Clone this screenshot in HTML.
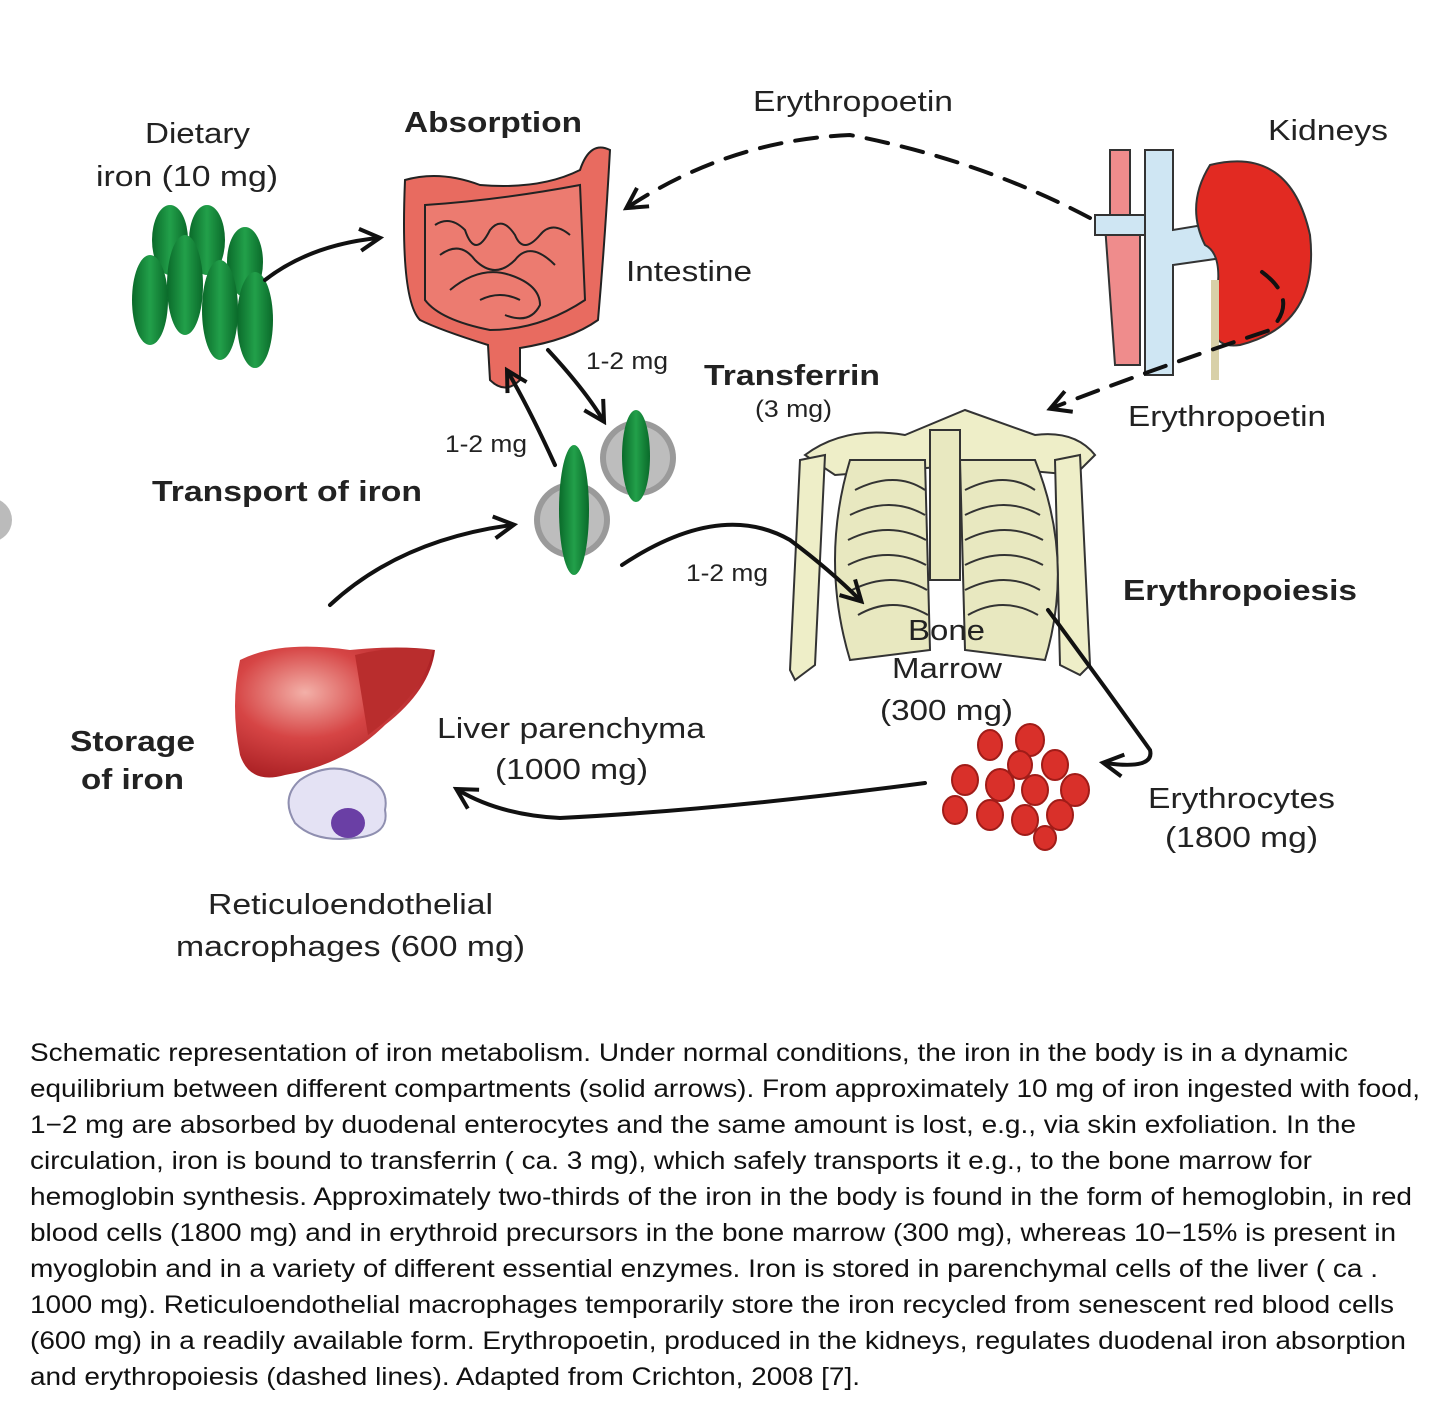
<!DOCTYPE html>
<html><head><meta charset="utf-8"><style>
html,body{margin:0;padding:0;background:#fff;}
svg{display:block;}
text{font-family:"Liberation Sans",Arial,sans-serif;fill:#222;}
.b{font-weight:bold;}
.cap{font-size:25px;fill:#111;}
</style></head><body>
<svg width="1440" height="1408" viewBox="0 0 1440 1408" xmlns="http://www.w3.org/2000/svg">
<defs>
<marker id="ahb" markerWidth="26" markerHeight="26" refX="20" refY="13" orient="auto" markerUnits="userSpaceOnUse">
<path d="M2,2 L22,13 L2,24" fill="none" stroke="#111" stroke-width="4"/></marker>
<radialGradient id="liv" cx="0.35" cy="0.35" r="0.7"><stop offset="0" stop-color="#f3b0a8"/><stop offset="0.5" stop-color="#d64545"/><stop offset="1" stop-color="#a81e22"/></radialGradient>
<linearGradient id="gr" x1="0" x2="1"><stop offset="0" stop-color="#0a6a2a"/><stop offset="0.5" stop-color="#22a04a"/><stop offset="1" stop-color="#0a6a2a"/></linearGradient>
</defs>

<circle cx="-10" cy="520" r="22" fill="#bbb"/>

<g fill="url(#gr)">
<ellipse cx="170" cy="240" rx="18" ry="35"/><ellipse cx="207" cy="240" rx="18" ry="35"/><ellipse cx="245" cy="262" rx="18" ry="35"/>
<ellipse cx="150" cy="300" rx="18" ry="45"/><ellipse cx="185" cy="285" rx="18" ry="50"/><ellipse cx="220" cy="310" rx="18" ry="50"/><ellipse cx="255" cy="320" rx="18" ry="48"/>
</g>

<g stroke="#222" stroke-width="2">
<path d="M405,180 Q440,170 480,185 Q540,190 580,170 Q590,140 610,150 Q605,240 598,320 Q570,340 520,348 L520,380 Q505,395 490,380 L488,345 Q440,330 420,320 Q400,300 405,180 z" fill="#e86b60"/>
<path d="M425,205 Q500,200 580,185 L585,300 Q540,330 490,330 Q440,320 425,300 z" fill="#ec7b70"/>
<g fill="none" stroke-width="2">
<path d="M435,225 q15,-10 30,5 q10,30 25,0 q12,-15 25,5 q8,20 25,0 q12,-15 30,0"/>
<path d="M440,255 q20,-15 35,5 q20,20 40,0 q15,-20 40,5"/>
<path d="M450,290 q30,-25 60,-15 q30,10 30,30 q-10,20 -35,10"/>
<path d="M480,300 q20,-10 40,0"/>
</g>
</g>

<circle cx="638" cy="458" r="38" fill="#9a9a9a"/><circle cx="638" cy="458" r="32" fill="#bdbdbd"/>
<ellipse cx="636" cy="456" rx="14" ry="46" fill="url(#gr)"/>
<circle cx="572" cy="520" r="38" fill="#9a9a9a"/><circle cx="572" cy="520" r="32" fill="#bdbdbd"/>
<ellipse cx="574" cy="510" rx="15" ry="65" fill="url(#gr)"/>

<g stroke="#333" stroke-width="2">
<path d="M1110,150 h20 v90 h-20 z" fill="#ef8c8c"/>
<path d="M1105,225 h35 v140 h-25 z" fill="#ef8c8c"/>
<path d="M1145,150 h28 v80 l60,-10 l10,35 l-70,10 v110 h-28 z" fill="#cfe6f3"/>
<path d="M1095,215 l50,0 l0,20 l-50,0 z" fill="#cfe6f3"/>
<path d="M1210,165 q80,-20 100,70 q10,90 -70,110 q-35,5 -25,-40 q10,-50 -10,-60 q-20,-40 5,-80 z" fill="#e22a22"/>
<path d="M1215,280 v100" stroke="#d8d0a8" stroke-width="8" fill="none"/>
</g>

<g stroke="#333" stroke-width="2" fill="#eeeec8">
<path d="M805,455 q40,-30 100,-20 l60,-25 l70,25 q40,-5 60,20 l-20,20 l-110,-10 l-130,10 z"/>
<path d="M800,460 l25,-5 l-10,210 l-20,15 l-5,-10 z"/>
<path d="M1055,460 l25,-5 l10,210 l-10,10 l-20,-10 z"/>
<path d="M850,460 q-30,100 0,200 l80,-10 l-5,-190 z" fill="#e8e8c0"/>
<path d="M960,460 l5,190 l80,10 q30,-100 -10,-200 z" fill="#e8e8c0"/>
<rect x="930" y="430" width="30" height="150" fill="#e8e8c0"/>
<g fill="none">
<path d="M855,490 q40,-20 70,0"/><path d="M850,515 q40,-20 75,0"/><path d="M848,540 q40,-20 78,0"/><path d="M848,565 q40,-20 78,0"/><path d="M852,590 q40,-20 75,0"/><path d="M858,615 q35,-20 70,0"/>
<path d="M965,490 q40,-20 70,0"/><path d="M965,515 q40,-20 75,0"/><path d="M965,540 q40,-20 78,0"/><path d="M965,565 q40,-20 78,0"/><path d="M965,590 q40,-20 75,0"/><path d="M968,615 q35,-20 70,0"/>
</g>
</g>

<path d="M240,660 q40,-20 110,-10 q50,-5 85,0 q-5,40 -50,75 q-40,40 -100,50 q-35,10 -45,-20 q-10,-50 0,-95 z" fill="url(#liv)"/>
<path d="M355,655 q40,-10 78,-5 q-10,45 -65,85 z" fill="#b92d2d"/>
<path d="M300,780 q30,-20 60,-5 q30,10 25,35 q5,25 -30,28 q-40,5 -60,-15 q-15,-25 5,-43 z" fill="#e4e2f4" stroke="#8f8fb0" stroke-width="2"/>
<ellipse cx="348" cy="823" rx="17" ry="15" fill="#6a3fa5"/>

<g fill="#d9302a" stroke="#a01c18" stroke-width="2">
<ellipse cx="990" cy="745" rx="12" ry="15"/><ellipse cx="1030" cy="740" rx="14" ry="16"/><ellipse cx="1055" cy="765" rx="13" ry="15"/>
<ellipse cx="965" cy="780" rx="13" ry="15"/><ellipse cx="1000" cy="785" rx="14" ry="16"/><ellipse cx="1035" cy="790" rx="13" ry="15"/><ellipse cx="1075" cy="790" rx="14" ry="16"/>
<ellipse cx="955" cy="810" rx="12" ry="14"/><ellipse cx="990" cy="815" rx="13" ry="15"/><ellipse cx="1025" cy="820" rx="13" ry="15"/><ellipse cx="1060" cy="815" rx="13" ry="15"/>
<ellipse cx="1020" cy="765" rx="12" ry="14"/><ellipse cx="1045" cy="838" rx="11" ry="12"/>
</g>

<g fill="none" stroke="#111" stroke-width="4" stroke-linecap="round">
<path d="M265,280 Q310,245 378,238" marker-end="url(#ahb)"/>
<path d="M548,350 Q585,390 603,420" marker-end="url(#ahb)"/>
<path d="M555,465 Q530,410 508,372" marker-end="url(#ahb)"/>
<path d="M330,605 Q400,540 512,525" marker-end="url(#ahb)"/>
<path d="M622,565 Q720,500 790,540 Q830,570 860,600" marker-end="url(#ahb)"/>
<path d="M1048,610 Q1100,680 1150,750 Q1155,770 1105,763" marker-end="url(#ahb)"/>
<path d="M925,783 Q720,810 560,818 Q500,815 458,790" marker-end="url(#ahb)"/>
<path d="M1090,218 Q980,160 850,135 Q730,140 628,207" stroke-dasharray="22,14" marker-end="url(#ahb)"/>
<path d="M1262,272 Q1300,300 1270,330 Q1150,370 1052,408" stroke-dasharray="22,14" marker-end="url(#ahb)"/>
</g>

<g font-size="29" lengthAdjust="spacingAndGlyphs">
<text x="145" y="143" textLength="105" lengthAdjust="spacingAndGlyphs">Dietary</text>
<text x="96" y="186" textLength="182" lengthAdjust="spacingAndGlyphs">iron (10 mg)</text>
<text x="404" y="132" class="b" textLength="178" lengthAdjust="spacingAndGlyphs">Absorption</text>
<text x="753" y="111" textLength="200" lengthAdjust="spacingAndGlyphs">Erythropoetin</text>
<text x="1268" y="140" textLength="120" lengthAdjust="spacingAndGlyphs">Kidneys</text>
<text x="626" y="281" textLength="126" lengthAdjust="spacingAndGlyphs">Intestine</text>
<text x="704" y="385" class="b" textLength="176" lengthAdjust="spacingAndGlyphs">Transferrin</text>
<text x="1128" y="426" textLength="198" lengthAdjust="spacingAndGlyphs">Erythropoetin</text>
<text x="152" y="501" class="b" textLength="270" lengthAdjust="spacingAndGlyphs">Transport of iron</text>
<text x="1123" y="600" class="b" textLength="234" lengthAdjust="spacingAndGlyphs">Erythropoiesis</text>
<text x="908" y="640" textLength="77" lengthAdjust="spacingAndGlyphs">Bone</text>
<text x="892" y="678" textLength="110" lengthAdjust="spacingAndGlyphs">Marrow</text>
<text x="880" y="720" textLength="133" lengthAdjust="spacingAndGlyphs">(300 mg)</text>
<text x="70" y="751" class="b" textLength="125" lengthAdjust="spacingAndGlyphs">Storage</text>
<text x="81" y="789" class="b" textLength="103" lengthAdjust="spacingAndGlyphs">of iron</text>
<text x="437" y="738" textLength="268" lengthAdjust="spacingAndGlyphs">Liver parenchyma</text>
<text x="495" y="779" textLength="153" lengthAdjust="spacingAndGlyphs">(1000 mg)</text>
<text x="1148" y="808" textLength="187" lengthAdjust="spacingAndGlyphs">Erythrocytes</text>
<text x="1165" y="847" textLength="153" lengthAdjust="spacingAndGlyphs">(1800 mg)</text>
<text x="208" y="914" textLength="285" lengthAdjust="spacingAndGlyphs">Reticuloendothelial</text>
<text x="176" y="956" textLength="349" lengthAdjust="spacingAndGlyphs">macrophages (600 mg)</text>
</g>
<g font-size="24">
<text x="586" y="369" textLength="82" lengthAdjust="spacingAndGlyphs">1-2 mg</text>
<text x="755" y="417" textLength="77" lengthAdjust="spacingAndGlyphs">(3 mg)</text>
<text x="445" y="452" textLength="82" lengthAdjust="spacingAndGlyphs">1-2 mg</text>
<text x="686" y="581" textLength="82" lengthAdjust="spacingAndGlyphs">1-2 mg</text>
</g>

<g class="cap">
<text class="cap" x="30" y="1061" textLength="1318" lengthAdjust="spacingAndGlyphs">Schematic representation of iron metabolism. Under normal conditions, the iron in the body is in a dynamic</text>
<text class="cap" x="30" y="1097" textLength="1390" lengthAdjust="spacingAndGlyphs">equilibrium between different compartments (solid arrows). From approximately 10 mg of iron ingested with food,</text>
<text class="cap" x="30" y="1133" textLength="1326" lengthAdjust="spacingAndGlyphs">1−2 mg are absorbed by duodenal enterocytes and the same amount is lost, e.g., via skin exfoliation. In the</text>
<text class="cap" x="30" y="1169" textLength="1282" lengthAdjust="spacingAndGlyphs">circulation, iron is bound to transferrin ( ca. 3 mg), which safely transports it e.g., to the bone marrow for</text>
<text class="cap" x="30" y="1205" textLength="1382" lengthAdjust="spacingAndGlyphs">hemoglobin synthesis. Approximately two-thirds of the iron in the body is found in the form of hemoglobin, in red</text>
<text class="cap" x="30" y="1241" textLength="1366" lengthAdjust="spacingAndGlyphs">blood cells (1800 mg) and in erythroid precursors in the bone marrow (300 mg), whereas 10−15% is present in</text>
<text class="cap" x="30" y="1277" textLength="1348" lengthAdjust="spacingAndGlyphs">myoglobin and in a variety of different essential enzymes. Iron is stored in parenchymal cells of the liver ( ca .</text>
<text class="cap" x="30" y="1313" textLength="1364" lengthAdjust="spacingAndGlyphs">1000 mg). Reticuloendothelial macrophages temporarily store the iron recycled from senescent red blood cells</text>
<text class="cap" x="30" y="1349" textLength="1376" lengthAdjust="spacingAndGlyphs">(600 mg) in a readily available form. Erythropoetin, produced in the kidneys, regulates duodenal iron absorption</text>
<text class="cap" x="30" y="1385" textLength="830" lengthAdjust="spacingAndGlyphs">and erythropoiesis (dashed lines). Adapted from Crichton, 2008 [7].</text>
</g>
</svg>
</body></html>
